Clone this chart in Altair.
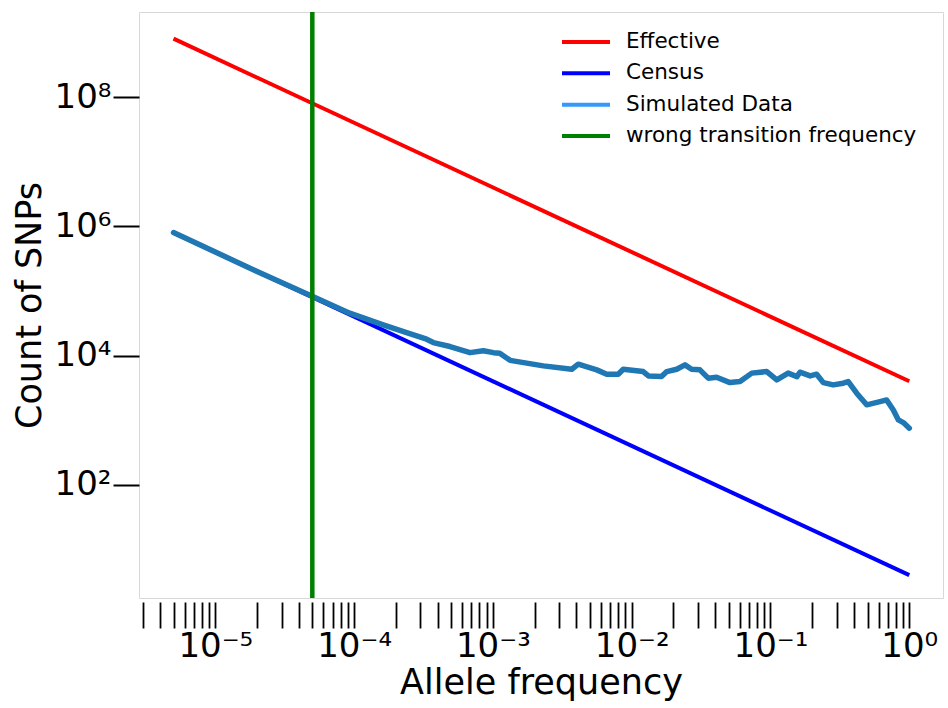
import altair as alt
import pandas as pd

# ---- data ----
line_freq = [5e-6, 1.0]
effective_counts = [8.0e8, 4.0e3]
census_counts = [8.0e5, 4.0]
transition_freq = [5e-5]

sim_freq = [5e-6, 1e-5, 2e-5, 5.08e-5, 9.3e-5, 1.62e-4, 2.39e-4, 3.33e-4, 3.72e-4, 4.91e-4,
            6.84e-4, 8.53e-4, 1.01e-3, 1.12e-3, 1.33e-3, 2.31e-3, 3.70e-3, 4.12e-3, 5.60e-3, 6.61e-3,
            8.0e-3, 8.69e-3, 1.21e-2, 1.32e-2, 1.64e-2, 1.79e-2, 2.11e-2, 2.42e-2, 2.70e-2, 3.10e-2,
            3.56e-2, 4.09e-2, 5.10e-2, 6.03e-2, 7.33e-2, 9.40e-2, 0.111, 0.134, 0.155, 0.163,
            0.193, 0.215, 0.240, 0.283, 0.334, 0.363, 0.418, 0.493, 0.615, 0.687,
            0.767, 0.834, 0.906, 1.0]
sim_count = [8.0e5, 4.0e5, 2.0e5, 8.1e4, 45300, 29900, 22700, 17900, 15900, 13800,
             11100, 11900, 11100, 10900, 8430, 6930, 6150, 7360, 6010, 5150,
             5150, 6150, 5650, 4850, 4730, 5650, 6150, 7180, 6150, 6010,
             4470, 4630, 3820, 3960, 5350, 5650, 4210, 5350, 4730, 5530,
             4850, 5150, 3820, 3520, 3740, 3960, 2620, 1730, 1940, 2060,
             1440, 1010, 918, 752]

legend_labels = ["Effective", "Census", "Simulated Data", "wrong transition frequency"]
legend_colors = ["#ff0000", "#0000ff", "#3399ff", "#008000"]

x_domain = [10 ** -5.5497, 10 ** 0.2428]
y_domain = [10 ** 0.249, 10 ** 9.316]

x_tick_values = [float(f"{m}e{k}") for k in range(-6, 1) for m in range(1, 10)
                 if x_domain[0] <= float(f"{m}e{k}") <= x_domain[1]]
y_tick_values = [1e2, 1e4, 1e6, 1e8]

SUP = {"-": "\u207b", "0": "\u2070", "1": "\u00b9", "2": "\u00b2", "3": "\u00b3",
       "4": "\u2074", "5": "\u2075", "6": "\u2076", "7": "\u2077", "8": "\u2078", "9": "\u2079"}


def sup(n):
    return "".join(SUP[c] for c in str(n))


def decade_label_expr(exps):
    e = "round(log(datum.value)/LN10)"
    inner = "''"
    for k in exps:
        inner = f"({e} == {k} ? '10{sup(k)}' : {inner})"
    return f"abs(log(datum.value)/LN10 - {e}) < 0.001 ? {inner} : ''"


df_lines = pd.DataFrame({"freq": line_freq, "eff": effective_counts, "cen": census_counts})
df_sim = pd.DataFrame({"freq": sim_freq, "count": sim_count})
df_tr = pd.DataFrame({"freq": transition_freq})
df_leg = pd.DataFrame({"label": legend_labels, "color": legend_colors})

x_scale = alt.Scale(type="log", domain=x_domain, nice=False)
y_scale = alt.Scale(type="log", domain=y_domain, nice=False)

x_enc = alt.X("freq:Q", scale=x_scale, axis=alt.Axis(
    values=x_tick_values, labelExpr=decade_label_expr(range(-6, 1)),
    tickSize=26, tickWidth=1.8, labelFontSize=34, labelPadding=1, offset=4,
    labelOverlap=False, labelFlush=False, labelBound=False,
    title="Allele frequency", titleFontSize=35, titleY=91, titleBaseline="alphabetic"))

y_axis = alt.Axis(values=y_tick_values, labelExpr=decade_label_expr(range(0, 10)),
                  tickSize=26, tickWidth=2, labelFontSize=34, labelPadding=2,
                  labelOverlap=False, labelFlush=False, labelBound=False,
                  title="Count of SNPs", titleFontSize=35, titleAngle=270,
                  titleX=-99, titleY=293, titleBaseline="alphabetic", titleAlign="center")

eff = alt.Chart(df_lines).mark_line(color="#ff0000", strokeWidth=4).encode(
    x=x_enc, y=alt.Y("eff:Q", scale=y_scale, axis=y_axis))
cen = alt.Chart(df_lines).mark_line(color="#0000ff", strokeWidth=4).encode(
    x=alt.X("freq:Q", scale=x_scale), y=alt.Y("cen:Q", scale=y_scale))
sim = alt.Chart(df_sim).mark_line(color="#1f77b4", strokeWidth=5.5, strokeCap="round",
                                   strokeJoin="round").encode(
    x=alt.X("freq:Q", scale=x_scale), y=alt.Y("count:Q", scale=y_scale))
tr = alt.Chart(df_tr).mark_rule(color="#008000", strokeWidth=4.5).encode(
    x=alt.X("freq:Q", scale=x_scale))

data_layer = alt.layer(eff, cen, sim, tr)

leg_y = alt.Y("label:N", sort=legend_labels,
              scale=alt.Scale(type="point", domain=legend_labels, range=[30, 124], padding=0),
              axis=None)
leg_rule = alt.Chart(df_leg).mark_rule(strokeWidth=4).encode(
    x=alt.value(423), x2=alt.value(471), y=leg_y, color=alt.Color("color:N", scale=None))
leg_text = alt.Chart(df_leg).mark_text(align="left", baseline="middle", fontSize=21.5,
                                       font="DejaVu Sans", color="black").encode(
    x=alt.value(487), y=leg_y, text="label:N")
legend_layer = alt.layer(leg_rule, leg_text)

chart = alt.layer(data_layer, legend_layer).resolve_scale(y="independent").properties(
    width=804, height=586,
    padding={"left": 139, "top": 12, "right": 5, "bottom": 110},
    autosize=alt.AutoSizeParams(type="none"),
    background="white",
).configure_view(stroke="#d8d8d8", strokeWidth=1).configure_axis(
    domain=False, grid=False, labelFont="DejaVu Sans", titleFont="DejaVu Sans",
    labelColor="black", titleColor="black", tickColor="black", titleFontWeight="normal")

chart.save("out.html", embed_options={"renderer": "svg", "actions": False})
